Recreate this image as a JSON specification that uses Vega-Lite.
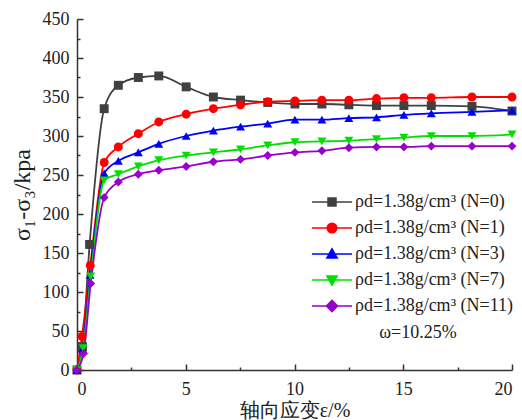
{
  "$schema": "https://vega.github.io/schema/vega-lite/v6.json",
  "width": 435,
  "height": 351,
  "autosize": "none",
  "padding": {"left": 77, "top": 19, "right": 10, "bottom": 50},
  "background": "white",
  "config": {
    "view": {"stroke": null},
    "font": "Liberation Serif",
    "axis": {
      "grid": false,
      "domainColor": "#333333",
      "domainWidth": 1.5,
      "tickColor": "#333333",
      "tickWidth": 1.5,
      "labelFont": "Liberation Serif",
      "labelFontSize": 18,
      "labelColor": "#222222",
      "titleFont": "Liberation Serif",
      "titleFontSize": 21,
      "titleFontWeight": "normal",
      "titleColor": "#222222"
    }
  },
  "data": {
    "values": [
      {"s": "N=0", "x": 0, "y": 0}, {"s": "N=0", "x": 0.25, "y": 30}, {"s": "N=0", "x": 0.58, "y": 161},
      {"s": "N=0", "x": 1.25, "y": 335}, {"s": "N=0", "x": 1.9, "y": 365}, {"s": "N=0", "x": 2.82, "y": 375},
      {"s": "N=0", "x": 3.76, "y": 377}, {"s": "N=0", "x": 5.02, "y": 363}, {"s": "N=0", "x": 6.27, "y": 350},
      {"s": "N=0", "x": 7.52, "y": 346}, {"s": "N=0", "x": 8.77, "y": 343}, {"s": "N=0", "x": 10.02, "y": 341},
      {"s": "N=0", "x": 11.26, "y": 341}, {"s": "N=0", "x": 12.5, "y": 340}, {"s": "N=0", "x": 13.77, "y": 339},
      {"s": "N=0", "x": 15.03, "y": 339}, {"s": "N=0", "x": 16.29, "y": 339}, {"s": "N=0", "x": 18.16, "y": 338},
      {"s": "N=0", "x": 20, "y": 332},

      {"s": "N=1", "x": 0, "y": 0}, {"s": "N=1", "x": 0.23, "y": 43}, {"s": "N=1", "x": 0.61, "y": 134},
      {"s": "N=1", "x": 1.25, "y": 266}, {"s": "N=1", "x": 1.9, "y": 286}, {"s": "N=1", "x": 2.82, "y": 303},
      {"s": "N=1", "x": 3.76, "y": 318}, {"s": "N=1", "x": 5.02, "y": 328}, {"s": "N=1", "x": 6.27, "y": 335},
      {"s": "N=1", "x": 7.52, "y": 340}, {"s": "N=1", "x": 8.77, "y": 344}, {"s": "N=1", "x": 10.02, "y": 345},
      {"s": "N=1", "x": 11.26, "y": 346}, {"s": "N=1", "x": 12.5, "y": 346}, {"s": "N=1", "x": 13.77, "y": 348},
      {"s": "N=1", "x": 15.03, "y": 349}, {"s": "N=1", "x": 16.29, "y": 349}, {"s": "N=1", "x": 18.16, "y": 350},
      {"s": "N=1", "x": 20, "y": 350},

      {"s": "N=3", "x": 0, "y": 0}, {"s": "N=3", "x": 0.26, "y": 27}, {"s": "N=3", "x": 0.6, "y": 122},
      {"s": "N=3", "x": 1.25, "y": 252}, {"s": "N=3", "x": 1.9, "y": 268}, {"s": "N=3", "x": 2.82, "y": 279},
      {"s": "N=3", "x": 3.76, "y": 290}, {"s": "N=3", "x": 5.02, "y": 300}, {"s": "N=3", "x": 6.27, "y": 307},
      {"s": "N=3", "x": 7.52, "y": 312}, {"s": "N=3", "x": 8.77, "y": 316}, {"s": "N=3", "x": 10.02, "y": 321},
      {"s": "N=3", "x": 11.26, "y": 321}, {"s": "N=3", "x": 12.5, "y": 323}, {"s": "N=3", "x": 13.77, "y": 324},
      {"s": "N=3", "x": 15.03, "y": 327}, {"s": "N=3", "x": 16.29, "y": 329}, {"s": "N=3", "x": 18.16, "y": 331},
      {"s": "N=3", "x": 20, "y": 333},

      {"s": "N=7", "x": 0, "y": 0}, {"s": "N=7", "x": 0.28, "y": 28}, {"s": "N=7", "x": 0.63, "y": 120},
      {"s": "N=7", "x": 1.25, "y": 243}, {"s": "N=7", "x": 1.9, "y": 251}, {"s": "N=7", "x": 2.82, "y": 261},
      {"s": "N=7", "x": 3.76, "y": 269}, {"s": "N=7", "x": 5.02, "y": 275}, {"s": "N=7", "x": 6.27, "y": 279},
      {"s": "N=7", "x": 7.52, "y": 283}, {"s": "N=7", "x": 8.77, "y": 288}, {"s": "N=7", "x": 10.02, "y": 292},
      {"s": "N=7", "x": 11.26, "y": 293}, {"s": "N=7", "x": 12.5, "y": 294}, {"s": "N=7", "x": 13.77, "y": 296},
      {"s": "N=7", "x": 15.03, "y": 298}, {"s": "N=7", "x": 16.29, "y": 300}, {"s": "N=7", "x": 18.16, "y": 300},
      {"s": "N=7", "x": 20, "y": 302},

      {"s": "N=11", "x": 0, "y": 0}, {"s": "N=11", "x": 0.3, "y": 21}, {"s": "N=11", "x": 0.63, "y": 111},
      {"s": "N=11", "x": 1.25, "y": 221}, {"s": "N=11", "x": 1.9, "y": 241}, {"s": "N=11", "x": 2.82, "y": 251},
      {"s": "N=11", "x": 3.76, "y": 256}, {"s": "N=11", "x": 5.02, "y": 261}, {"s": "N=11", "x": 6.27, "y": 267},
      {"s": "N=11", "x": 7.52, "y": 270}, {"s": "N=11", "x": 8.77, "y": 275}, {"s": "N=11", "x": 10.02, "y": 279},
      {"s": "N=11", "x": 11.26, "y": 281}, {"s": "N=11", "x": 12.5, "y": 285}, {"s": "N=11", "x": 13.77, "y": 286},
      {"s": "N=11", "x": 15.03, "y": 286}, {"s": "N=11", "x": 16.29, "y": 287}, {"s": "N=11", "x": 18.16, "y": 287},
      {"s": "N=11", "x": 20, "y": 287}
    ]
  },
  "encoding": {
    "x": {
      "field": "x", "type": "quantitative",
      "scale": {"domain": [0, 20], "nice": false, "zero": false},
      "axis": {
        "title": "轴向应变ε/%",
        "titleFontSize": 20,
        "values": [0, 2.5, 5, 7.5, 10, 12.5, 15, 17.5, 20],
        "labelExpr": "datum.value % 5 === 0 ? datum.label : ''",
        "tickSize": {"condition": {"test": "datum.value % 5 === 0", "value": -6}, "value": -3},
        "labelPadding": 16,
        "titlePadding": 2
      }
    },
    "y": {
      "field": "y", "type": "quantitative",
      "scale": {"domain": [0, 450], "nice": false},
      "axis": {
        "title": "σ₁-σ₃/kpa",
        "titleFontSize": 24,
        "values": [0, 25, 50, 75, 100, 125, 150, 175, 200, 225, 250, 275, 300, 325, 350, 375, 400, 425, 450],
        "labelExpr": "datum.value % 50 === 0 ? datum.label : ''",
        "tickSize": {"condition": {"test": "datum.value % 50 === 0", "value": -6}, "value": -3},
        "labelPadding": 14,
        "titlePadding": 8
      }
    },
    "color": {
      "field": "s", "type": "nominal",
      "scale": {"domain": ["N=0", "N=1", "N=3", "N=7", "N=11"], "range": ["#404040", "#ff0000", "#0000ff", "#00e000", "#9900cc"]},
      "legend": {
        "orient": "none", "legendX": 246, "legendY": 174,
        "title": "ω=10.25%", "titleOrient": "bottom", "titleAnchor": "middle", "titlePadding": 9,
        "titleFont": "Liberation Serif", "titleFontSize": 18, "titleFontWeight": "normal", "titleColor": "#222222",
        "labelFont": "Liberation Serif", "labelFontSize": 18, "labelColor": "#222222",
        "labelExpr": "'ρd=1.38g/cm³ (' + datum.label + ')'",
        "symbolSize": 64, "symbolStrokeWidth": 1.5, "labelOffset": 14, "rowPadding": 8,
        "encode": {
          "symbols": {
            "update": {
              "shape": {"signal": "['M-5,0H5M-1,-1H1V1H-1Z','M-5,0H5M1.2,0A1.2,1.2,0,1,1,-1.2,0A1.2,1.2,0,1,1,1.2,0Z','M-5,0H5M0,-1.3L1.3,1L-1.3,1Z','M-5,0H5M0,1.3L1.3,-1L-1.3,-1Z','M-5,0H5M0,-1.4L1.4,0L0,1.4L-1.4,0Z'][datum.index]"},
              "stroke": {"scale": "color", "field": "value"},
              "fill": {"scale": "color", "field": "value"},
              "strokeWidth": {"value": 1.5},
              "opacity": {"value": 1}
            }
          }
        }
      }
    }
  },
  "layer": [
    {
      "mark": {"type": "line", "strokeWidth": 1.8, "interpolate": "monotone"},
      "encoding": {"detail": {"field": "s"}}
    },
    {
      "mark": {"type": "point", "filled": true, "opacity": 1, "size": 80},
      "encoding": {
        "shape": {
          "condition": [
            {"test": "datum.s === 'N=0'", "value": "square"},
            {"test": "datum.s === 'N=1'", "value": "circle"},
            {"test": "datum.s === 'N=3'", "value": "triangle-up"},
            {"test": "datum.s === 'N=7'", "value": "triangle-down"}
          ],
          "value": "diamond"
        }
      }
    }
  ]
}
